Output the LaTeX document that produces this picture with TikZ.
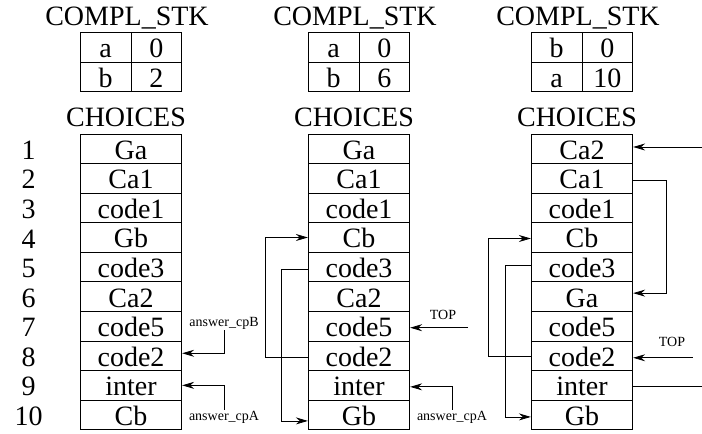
\documentclass[tikz,border=0pt]{standalone}
\usepackage{fontspec}
\setmainfont{Liberation Serif}
\usetikzlibrary{arrows.meta}
\begin{document}
\begin{tikzpicture}[x=1pt,y=-1pt,
  big/.style={font=\rmfamily\fontsize{28}{30}\selectfont},
  cell/.style={big,draw,line width=0.8pt,minimum width=101.5pt,minimum height=29.57pt,inner sep=0pt,text height=23pt,text depth=2pt},
  tcell/.style={big,draw,line width=0.8pt,minimum width=50.75pt,minimum height=29.5pt,inner sep=0pt,text height=23pt,text depth=2pt},
  title/.style={big,inner sep=0pt,anchor=base},
  num/.style={big,inner sep=0pt,anchor=base},
  small/.style={font=\rmfamily\fontsize{14}{16}\selectfont,inner sep=1pt},
  conn/.style={line width=0.8pt},
  arr/.style={conn,-{Stealth[length=12pt,width=7pt,inset=4pt]}}]
\useasboundingbox (0,0) rectangle (702,434);
% stacks of choices
\foreach \c/\cx/\labs in {1/131/{Ga,Ca1,code1,Gb,code3,Ca2,code5,code2,inter,Cb},
                          2/359/{Ga,Ca1,code1,Cb,code3,Ca2,code5,code2,inter,Gb},
                          3/582/{Ca2,Ca1,code1,Cb,code3,Ga,code5,code2,inter,Gb}}{
  \foreach \t [count=\i] in \labs {
    \node[cell] (c\c-\i) at (\cx,{134+29.57*(\i-0.5)}) {\t};
  }
  \node[title] (ch\c) at (\cx-5,126) {CHOICES};
  \node[title] (st\c) at (\cx-4,25) {COMPL\_STK};
}
% compl_stk tables
\foreach \c/\cx/\a/\b/\d/\e in {1/131/a/0/b/2, 2/359/a/0/b/6, 3/582/b/0/a/10}{
  \node[tcell] (k\c-1l) at (\cx-25.375,47.45) {\a};
  \node[tcell] (k\c-1r) at (\cx+25.375,47.45) {\b};
  \node[tcell] (k\c-2l) at (\cx-25.375,76.95) {\d};
  \node[tcell] (k\c-2r) at (\cx+25.375,76.95) {\e};
}
% row numbers
\foreach \i in {1,...,10}{
  \node[num] (n\i) at (28.5,{134+29.57*(\i-1)+25.3}) {\i};
}
% column 1
\node[small] (lb1) at (224,323) {answer\_cpB};
\node[small] (la1) at (224,417) {answer\_cpA};
\draw[arr] (lb1.south) |- ([yshift=2.5pt]c1-8.east);
\draw[arr] (la1.north) |- (c1-9.east);
% column 2
\draw[arr] ([yshift=-2pt]c2-8.west) -- ++(-42,0) |- (c2-4.west);
\draw[arr] ([yshift=-2pt]c2-5.west) -- ++(-26,0) |- ([yshift=-6pt]c2-10.west);
\node[small] (tp2) at (443,315) {TOP};
\coordinate (t2) at ([xshift=58pt,yshift=-1.5pt]c2-7.east);
\draw[arr] (t2) -- ([yshift=-1.5pt]c2-7.east);
\node[small] (la2) at (452,417) {answer\_cpA};
\draw[arr] (la2.north) |- ([yshift=-1.5pt]c2-9.east);
% column 3
\coordinate (e1) at ([xshift=69.5pt,yshift=1.8pt]c3-1.east);
\draw[arr] (e1) -- ([yshift=1.8pt]c3-1.east);
\draw[arr] ([yshift=-2.5pt]c3-2.east) -- ++(33.5,0) |- ([yshift=3.5pt]c3-6.east);
\node[small] (tp3) at (672,342) {TOP};
\coordinate (t3) at ([xshift=59.5pt,yshift=-2pt]c3-8.east);
\draw[arr] (t3) -- ([yshift=-2pt]c3-8.east);
\coordinate (e9) at ([xshift=69.5pt,yshift=-1.5pt]c3-9.east);
\draw[conn] ([yshift=-1.5pt]c3-9.east) -- (e9);
\draw[arr] ([yshift=-1pt]c3-8.west) -- ++(-42.5,0) |- ([yshift=-1pt]c3-4.west);
\draw[arr] ([yshift=2pt]c3-5.west) -- ++(-25.5,0) |- ([yshift=-2pt]c3-10.west);
\end{tikzpicture}
\end{document}
